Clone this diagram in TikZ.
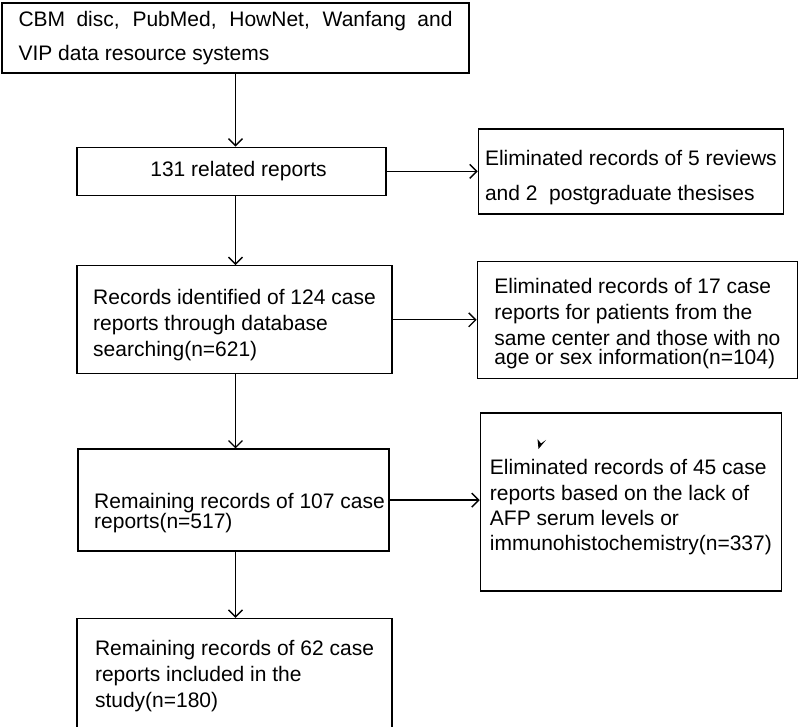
\documentclass[tikz,border=0pt]{standalone}
\usepackage{fontspec}
\setmainfont{Liberation Sans}
\usepackage{tikz}
\usetikzlibrary{arrows.meta, positioning}

\tikzset{
    box/.style={draw, line width=0.7pt, align=left, inner sep=2pt,
        font=\fontsize{10.5}{13}\selectfont},
    arr/.style={line width=0.7pt, -{Straight Barb[length=3.5pt,width=7pt]}}
}

\begin{document}
\begin{tikzpicture}[x=0.5pt, y=-0.5pt]
            \useasboundingbox (0,0) rectangle (800,727);
            \node[box, minimum width=233.5pt, minimum height=35pt, text width=217pt, align=justify,
                font=\fontsize{10.5}{17}\selectfont] (src) at (235.5,38)
                {CBM disc, PubMed, HowNet, Wanfang and\linebreak VIP data resource systems};
            \node[box, minimum width=154.5pt, minimum height=24pt, below=36.5pt of src, xshift=-2pt] (rel)
                {\hspace*{7pt}131 related reports};
            \node[box, minimum width=152.5pt, minimum height=42.5pt, right=45.5pt of rel,
                font=\fontsize{10.5}{17.5}\selectfont] (elim1)
                {\rule{0pt}{13.7pt}Eliminated records of 5 reviews\\and 2~ postgraduate thesises};
            \node[box, minimum width=157.5pt, minimum height=54pt, below=34.5pt of rel, xshift=1.5pt] (ident)
                {\rule{0pt}{12.7pt}Records identified of 124 case\\reports through database\\searching(n=621)};
            \node[box, minimum width=160pt, minimum height=58.5pt, right=42pt of ident] (elim2)
                {\rule{0pt}{11.7pt}Eliminated records of 17 case\\reports for patients from the\\same center and those with no\\[-3.6pt]age or sex information(n=104)};
            \node[box, minimum width=155.5pt, minimum height=51pt, below=37pt of ident, xshift=-0.5pt] (remain)
                {\rule{0pt}{20.2pt}\hspace*{6pt}Remaining records of 107 case\\[-2.9pt]\hspace*{6pt}reports(n=517)};
            \node[box, minimum width=150.5pt, minimum height=89pt, right=45pt of remain, yshift=-1pt,
                font=\fontsize{10.5}{12.7}\selectfont] (elim3)
                {\rule{0pt}{12.8pt}Eliminated records of 45 case\\reports based on the lack of\\AFP serum levels or\\immunohistochemistry(n=337)};
            \node[box, minimum width=157.5pt, minimum height=56.5pt, below=33pt of remain, xshift=0.5pt] (incl)
                {\rule{0pt}{8.2pt}Remaining records of 62 case\\reports included in the\\study(n=180)};

            \draw[arr] (src.south) -- (src.south |- rel.north);
            \draw[arr] (rel.east) -- (rel.east -| elim1.west);
            \draw[arr] (src.south |- rel.south) -- (src.south |- ident.north);
            \draw[arr] (ident.east) -- (ident.east -| elim2.west);
            \draw[arr] (src.south |- ident.south) -- (src.south |- remain.north);
            \draw[arr] (remain.east) -- (remain.east -| elim3.west);
            \draw[arr] (src.south |- remain.south) -- (src.south |- incl.north);

            \fill (538.5,449) -- (537.5,439) -- (541,443.5) -- (546,440) -- cycle;
        \end{tikzpicture}
\end{document}
